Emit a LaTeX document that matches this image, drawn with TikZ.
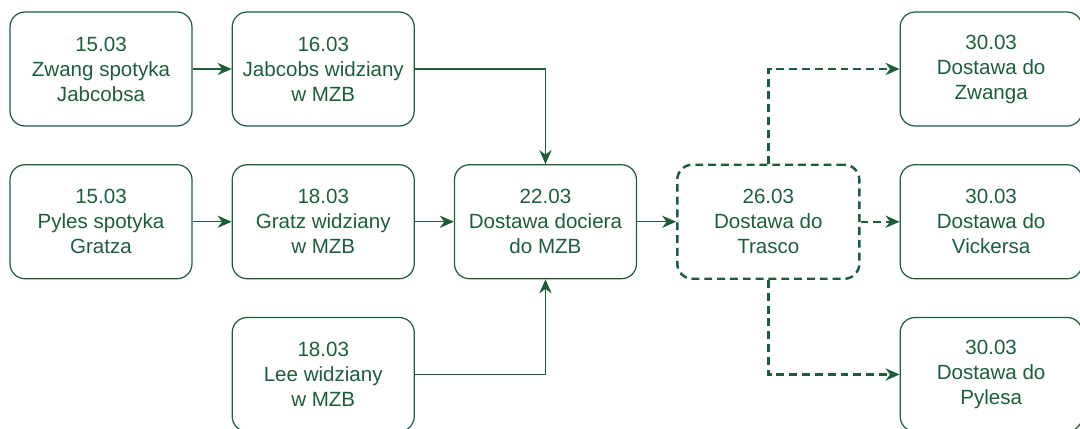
\documentclass[tikz,border=0pt]{standalone}
\usepackage{fontspec}
\setmainfont{Liberation Sans}
\usetikzlibrary{positioning,arrows.meta}
\definecolor{zielen}{RGB}{28,94,58}
\tikzset{
  zdarzenie/.style={draw=zielen,text=zielen,rounded corners=0.3cm,line width=0.7pt,
    minimum width=3.64cm,minimum height=2.28cm,align=center,
    font=\fontsize{11.7}{14.2}\selectfont},
  kurier/.style={zdarzenie,dashed,line width=1.4pt,dash pattern=on 4.5pt off 2.8pt},
  strzalka/.style={draw=zielen,line width=0.8pt,-{Stealth[length=8pt,width=7pt]}},
  przerywana/.style={strzalka,line width=1.4pt,dash pattern=on 4.5pt off 2.8pt}
}
\begin{document}
\begin{tikzpicture}[node distance=0.75cm and 0.78cm]
        \useasboundingbox (0,0) rectangle (21.6,-8.56);
        \path (2.02,-1.38) node[zdarzenie] (A) {15.03\\Zwang spotyka\\Jabcobsa};
        \path node[zdarzenie,right=of A] (B) {16.03\\Jabcobs widziany\\w MZB};
        \path node[zdarzenie,below=of A] (C) {15.03\\Pyles spotyka\\Gratza};
        \path node[zdarzenie,right=of C] (E) {18.03\\Gratz widziany\\w MZB};
        \path node[zdarzenie,below=of E] (G) {18.03\\Lee widziany\\w MZB};
        \path node[zdarzenie,right=of E] (D) {22.03\\Dostawa dociera\\do MZB};
        \path node[kurier,right=of D] (F) {26.03\\Dostawa do\\Trasco};
        \path node[zdarzenie,right=of F] (I) {30.03\\Dostawa do\\Vickersa};
        \path node[zdarzenie,above=of I] (H) {30.03\\Dostawa do\\Zwanga};
        \path node[zdarzenie,below=of I] (J) {30.03\\Dostawa do\\Pylesa};
        \draw[strzalka] (A) -- (B);
        \draw[strzalka] (B.east) -| (D.north);
        \draw[strzalka] (C) -- (E);
        \draw[strzalka] (E) -- (D);
        \draw[strzalka] (G.east) -| (D.south);
        \draw[strzalka] (D) -- (F);
        \draw[przerywana] (F.north) |- (H.west);
        \draw[przerywana] (F) -- (I);
        \draw[przerywana] (F.south) |- (J.west);
    \end{tikzpicture}
\end{document}
